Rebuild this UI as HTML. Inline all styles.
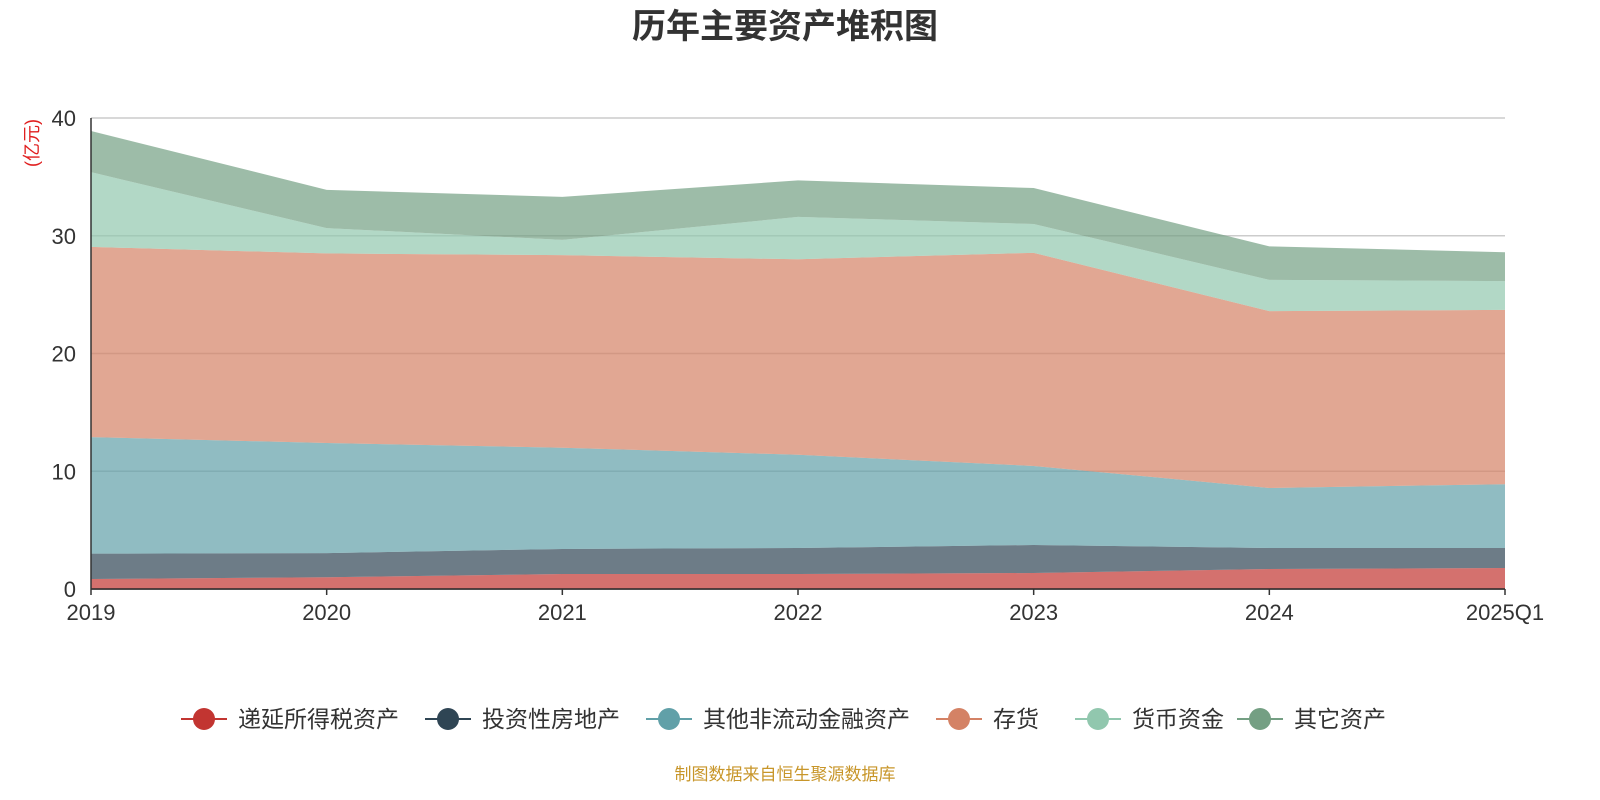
<!DOCTYPE html>
<html><head><meta charset="utf-8"><style>
body{margin:0;background:#fff;font-family:"Liberation Sans","Noto Sans CJK SC",sans-serif;}
#c{position:relative;width:1600px;height:800px;overflow:hidden}
</style></head><body>
<div id="c">
<svg id="s" width="1600" height="800" xmlns="http://www.w3.org/2000/svg"></svg>
</div>
<script>
const categories=["2019","2020","2021","2022","2023","2024","2025Q1"];
const seriesNames=["递延所得税资产","投资性房地产","其他非流动金融资产","存货","货币资金","其它资产"];
const deferredTax=[0.85,1.0,1.27,1.27,1.36,1.7,1.78];
const investProperty=[2.15,2.05,2.13,2.21,2.38,1.78,1.7];
const otherFinancial=[9.9,9.35,8.6,7.92,6.71,5.1,5.42];
const inventory=[16.15,16.1,16.35,16.6,18.1,15.02,14.8];
const cash=[6.35,2.15,1.3,3.6,2.45,2.65,2.45];
const otherAssets=[3.5,3.25,3.65,3.1,3.05,2.85,2.45];
const yTicks=[0,10,20,30,40];
const seriesData=[deferredTax,investProperty,otherFinancial,inventory,cash,otherAssets];
const colors=["#c23531","#2f4554","#61a0a8","#d48265","#91c7ae","#749f83"];
const NS="http://www.w3.org/2000/svg";
const svg=document.getElementById("s");
const X0=91,X1=1505,Y0=589,Y1=118;
const xs=i=>X0+(X1-X0)*i/(categories.length-1);
const ys=v=>Y0-(Y0-Y1)*v/40;
function mk(t,a,p){const e=document.createElementNS(NS,t);for(const k in a)e.setAttribute(k,a[k]);(p||svg).appendChild(e);return e;}
let t=mk("text",{x:785,y:38,"text-anchor":"middle","font-size":34,"font-weight":"bold",fill:"#333"});


t.textContent="历年主要资产堆积图";
t=mk("text",{x:38,y:143,"text-anchor":"middle","font-size":18,fill:"#e02020",transform:"rotate(-90 38 143)"});


t.textContent="(亿元)";
yTicks.forEach(v=>{
 const g=mk("line",{x1:X0,x2:X1,y1:ys(v),y2:ys(v),stroke:v===0?"#333":"#ccc","stroke-width":1.5});
 
 
 const l=mk("text",{x:76,y:ys(v)+8,"text-anchor":"end","font-size":22,fill:"#333"});
 
 
 l.textContent=v;
});
let base=categories.map(()=>0);
seriesData.forEach((arr,si)=>{
 const top=base.map((b,i)=>b+arr[i]);
 let d="M"+top.map((v,i)=>xs(i)+","+ys(v)).join(" L");
 for(let i=categories.length-1;i>=0;i--)d+=" L"+xs(i)+","+ys(base[i]);
 d+="Z";
 const p=mk("path",{d:d,fill:colors[si],"fill-opacity":0.7,stroke:"none"});
 
 
 base=top;
});
let a=mk("line",{x1:X0,x2:X0,y1:Y1,y2:Y0,stroke:"#333","stroke-width":1.5});


a=mk("line",{x1:X0,x2:X1,y1:Y0,y2:Y0,stroke:"#333","stroke-width":1.5});


categories.forEach((c,i)=>{
 const k=mk("line",{x1:xs(i),x2:xs(i),y1:Y0,y2:Y0+6,stroke:"#333","stroke-width":1.5});
 
 
 const l=mk("text",{x:xs(i),y:620,"text-anchor":"middle","font-size":22,fill:"#333"});
 
 
 l.textContent=c;
});
const lx=[181,425,646,936,1075,1237];
seriesNames.forEach((n,i)=>{
 const g=mk("g",{});
 
 
 mk("line",{x1:lx[i],x2:lx[i]+46,y1:719,y2:719,stroke:colors[i],"stroke-width":2},g);
 mk("circle",{cx:lx[i]+23,cy:719,r:11,fill:colors[i]},g);
 const l=mk("text",{x:lx[i]+57,y:727,"font-size":23,fill:"#333"},g);
 l.textContent=n;
});
t=mk("text",{x:785,y:780,"text-anchor":"middle","font-size":17,fill:"#c8962a"});


t.textContent="制图数据来自恒生聚源数据库";
</script>
</body></html>
